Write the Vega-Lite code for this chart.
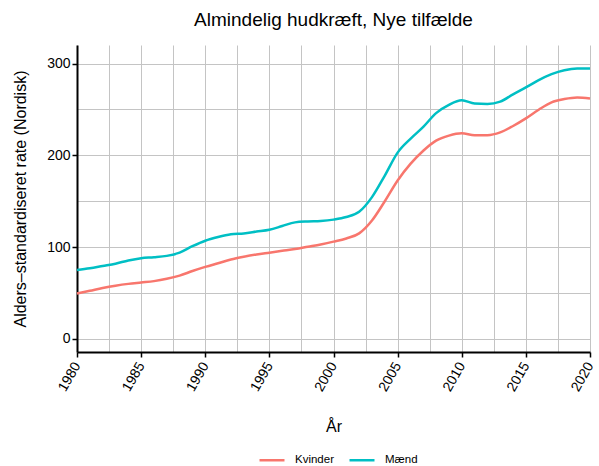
{
  "$schema": "https://vega.github.io/schema/vega-lite/v6.json",
  "width": 513,
  "height": 307,
  "autosize": {"type": "none"},
  "padding": {"left": 77, "top": 45, "right": 9, "bottom": 114},
  "background": "white",
  "title": {"text": "Almindelig hudkræft, Nye tilfælde", "fontSize": 19, "font": "Liberation Sans", "fontWeight": "normal", "anchor": "middle", "offset": 15, "color": "black"},
  "data": {"values": [
    {"year": 1980, "sex": "Mænd", "rate": 75}, {"year": 1981, "sex": "Mænd", "rate": 77}, {"year": 1982, "sex": "Mænd", "rate": 79.5}, {"year": 1983, "sex": "Mænd", "rate": 82}, {"year": 1984, "sex": "Mænd", "rate": 85.5}, {"year": 1985, "sex": "Mænd", "rate": 88}, {"year": 1986, "sex": "Mænd", "rate": 89}, {"year": 1987, "sex": "Mænd", "rate": 90.5}, {"year": 1988, "sex": "Mænd", "rate": 94}, {"year": 1989, "sex": "Mænd", "rate": 101}, {"year": 1990, "sex": "Mænd", "rate": 107}, {"year": 1991, "sex": "Mænd", "rate": 111}, {"year": 1992, "sex": "Mænd", "rate": 114}, {"year": 1993, "sex": "Mænd", "rate": 115}, {"year": 1994, "sex": "Mænd", "rate": 117}, {"year": 1995, "sex": "Mænd", "rate": 119}, {"year": 1996, "sex": "Mænd", "rate": 123}, {"year": 1997, "sex": "Mænd", "rate": 127}, {"year": 1998, "sex": "Mænd", "rate": 128}, {"year": 1999, "sex": "Mænd", "rate": 128.5}, {"year": 2000, "sex": "Mænd", "rate": 130}, {"year": 2001, "sex": "Mænd", "rate": 132.8}, {"year": 2002, "sex": "Mænd", "rate": 138.5}, {"year": 2003, "sex": "Mænd", "rate": 154.5}, {"year": 2004, "sex": "Mænd", "rate": 178}, {"year": 2005, "sex": "Mænd", "rate": 203}, {"year": 2006, "sex": "Mænd", "rate": 218}, {"year": 2007, "sex": "Mænd", "rate": 231}, {"year": 2008, "sex": "Mænd", "rate": 246}, {"year": 2009, "sex": "Mænd", "rate": 255}, {"year": 2010, "sex": "Mænd", "rate": 260}, {"year": 2011, "sex": "Mænd", "rate": 256.5}, {"year": 2012, "sex": "Mænd", "rate": 256}, {"year": 2013, "sex": "Mænd", "rate": 258.5}, {"year": 2014, "sex": "Mænd", "rate": 266.5}, {"year": 2015, "sex": "Mænd", "rate": 274}, {"year": 2016, "sex": "Mænd", "rate": 282}, {"year": 2017, "sex": "Mænd", "rate": 288.5}, {"year": 2018, "sex": "Mænd", "rate": 292.8}, {"year": 2019, "sex": "Mænd", "rate": 294.6}, {"year": 2020, "sex": "Mænd", "rate": 294.6},
    {"year": 1980, "sex": "Kvinder", "rate": 49.6}, {"year": 1981, "sex": "Kvinder", "rate": 52.5}, {"year": 1982, "sex": "Kvinder", "rate": 55.5}, {"year": 1983, "sex": "Kvinder", "rate": 58}, {"year": 1984, "sex": "Kvinder", "rate": 60}, {"year": 1985, "sex": "Kvinder", "rate": 61.5}, {"year": 1986, "sex": "Kvinder", "rate": 63}, {"year": 1987, "sex": "Kvinder", "rate": 65.5}, {"year": 1988, "sex": "Kvinder", "rate": 69}, {"year": 1989, "sex": "Kvinder", "rate": 74}, {"year": 1990, "sex": "Kvinder", "rate": 78.5}, {"year": 1991, "sex": "Kvinder", "rate": 82.5}, {"year": 1992, "sex": "Kvinder", "rate": 86.5}, {"year": 1993, "sex": "Kvinder", "rate": 89.5}, {"year": 1994, "sex": "Kvinder", "rate": 92}, {"year": 1995, "sex": "Kvinder", "rate": 94}, {"year": 1996, "sex": "Kvinder", "rate": 96}, {"year": 1997, "sex": "Kvinder", "rate": 98}, {"year": 1998, "sex": "Kvinder", "rate": 100.5}, {"year": 1999, "sex": "Kvinder", "rate": 103}, {"year": 2000, "sex": "Kvinder", "rate": 106}, {"year": 2001, "sex": "Kvinder", "rate": 109.5}, {"year": 2002, "sex": "Kvinder", "rate": 115}, {"year": 2003, "sex": "Kvinder", "rate": 129}, {"year": 2004, "sex": "Kvinder", "rate": 150}, {"year": 2005, "sex": "Kvinder", "rate": 172.6}, {"year": 2006, "sex": "Kvinder", "rate": 190.7}, {"year": 2007, "sex": "Kvinder", "rate": 205}, {"year": 2008, "sex": "Kvinder", "rate": 216}, {"year": 2009, "sex": "Kvinder", "rate": 221.5}, {"year": 2010, "sex": "Kvinder", "rate": 224}, {"year": 2011, "sex": "Kvinder", "rate": 222}, {"year": 2012, "sex": "Kvinder", "rate": 222}, {"year": 2013, "sex": "Kvinder", "rate": 225}, {"year": 2014, "sex": "Kvinder", "rate": 232}, {"year": 2015, "sex": "Kvinder", "rate": 240.3}, {"year": 2016, "sex": "Kvinder", "rate": 249.7}, {"year": 2017, "sex": "Kvinder", "rate": 257.7}, {"year": 2018, "sex": "Kvinder", "rate": 261.3}, {"year": 2019, "sex": "Kvinder", "rate": 263}, {"year": 2020, "sex": "Kvinder", "rate": 262}
  ]},
  "mark": {"type": "line", "interpolate": "monotone", "strokeWidth": 2.5},
  "encoding": {
    "x": {
      "field": "year", "type": "quantitative",
      "scale": {"domain": [1980, 2020], "nice": false, "zero": false},
      "axis": {
        "title": "År",
        "values": [1980, 1982.5, 1985, 1987.5, 1990, 1992.5, 1995, 1997.5, 2000, 2002.5, 2005, 2007.5, 2010, 2012.5, 2015, 2017.5, 2020],
        "labelExpr": "datum.value % 5 == 0 ? format(datum.value, 'd') : ''",
        "tickOpacity": {"condition": {"test": "datum.value % 5 == 0", "value": 1}, "value": 0},
        "labelAngle": -60, "labelAlign": "right", "labelBaseline": "middle", "labelDy": 4.3,
        "labelFontSize": 14, "labelColor": "black", "labelPadding": 6,
        "titleFontSize": 16, "titleFontWeight": "normal", "titleColor": "black", "titlePadding": 25,
        "domainColor": "black", "domainWidth": 2, "tickColor": "black", "tickWidth": 1.5, "tickSize": 5,
        "gridColor": "#c4c4c4", "gridWidth": 1
      }
    },
    "y": {
      "field": "rate", "type": "quantitative",
      "scale": {"domain": [-14.2, 320.2], "nice": false, "zero": false},
      "axis": {
        "title": "Alders–standardiseret rate (Nordisk)",
        "values": [0, 50, 100, 150, 200, 250, 300],
        "labelExpr": "datum.value % 100 == 0 ? format(datum.value, 'd') : ''",
        "tickOpacity": {"condition": {"test": "datum.value % 100 == 0", "value": 1}, "value": 0},
        "labelFontSize": 14, "labelColor": "black", "labelPadding": 2,
        "titleFontSize": 16, "titleFontWeight": "normal", "titleColor": "black", "titlePadding": 18,
        "domainColor": "black", "domainWidth": 2, "tickColor": "black", "tickWidth": 1.5, "tickSize": 5,
        "gridColor": "#c4c4c4", "gridWidth": 1
      }
    },
    "color": {
      "field": "sex", "type": "nominal",
      "scale": {"domain": ["Kvinder", "Mænd"], "range": ["#F8766D", "#00BFC4"]},
      "legend": {
        "title": null, "orient": "none", "direction": "horizontal", "legendX": 181, "legendY": 401,
        "symbolType": "stroke", "symbolSize": 625, "symbolStrokeWidth": 2.5,
        "labelFontSize": 11.5, "labelColor": "black", "labelOffset": 9, "columnPadding": 10
      }
    }
  },
  "config": {"view": {"stroke": null}, "font": "Liberation Sans"}
}
